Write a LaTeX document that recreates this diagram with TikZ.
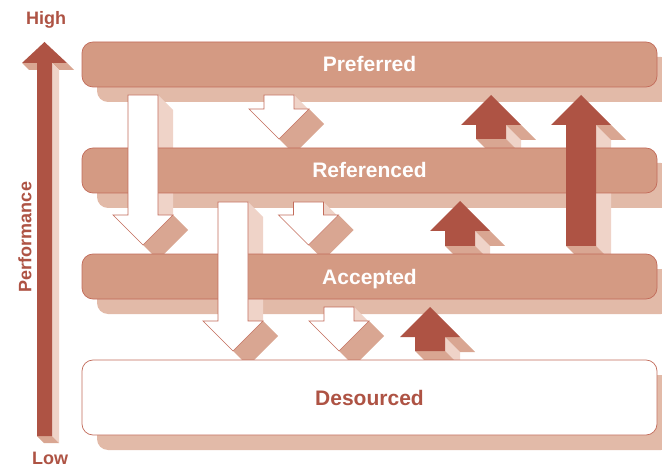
\documentclass[tikz,border=0pt]{standalone}
\usepackage{fontspec}
\setmainfont{Liberation Sans}
\usepackage{tikz}

\definecolor{barfill}{HTML}{D49A83}
\definecolor{barshade}{HTML}{E2BAA8}
\definecolor{darkred}{HTML}{AE5344}
\definecolor{lightface}{HTML}{EFD3C8}
\definecolor{midface}{HTML}{D9A692}
\definecolor{rimred}{HTML}{C26B5A}

\begin{document}
\begin{tikzpicture}[x=1pt,y=-1pt,
  bar/.style={rectangle, rounded corners=11pt, draw=rimred, line width=0.7pt, fill=barfill,
    minimum width=575pt, minimum height=45pt, text height=15pt, text depth=0pt,
    text=white, font=\fontsize{21}{25}\selectfont\bfseries},
  axislabel/.style={text=darkred, font=\fontsize{18}{22}\selectfont\bfseries},
  downarr/.style={fill=white, draw=rimred, line width=0.7pt}]

\clip (0,0) rectangle (662,468);

% shadows of the bars
\foreach \y/\h in {42/45, 148/45, 254/45, 360/75}
  \fill[barshade, rounded corners=11pt] (97,\y+15) rectangle (672,\y+\h+15);

% sides of the white arrows (x centre / top / tip)
\foreach \x/\t/\b in {143/95/245, 279/95/139, 233/202/351, 308.5/202/245, 339/307/351}{
  \fill[lightface] (\x+15,\t) -- (\x+15,\b-30) -- (\x+30,\b-15) -- (\x+30,\t+15) -- cycle;
  \fill[midface] (\x+30,\b-30) -- (\x,\b) -- (\x+15,\b+15) -- (\x+45,\b-15) -- cycle;
}
% sides of the red arrows (x centre / tip / bottom)
\foreach \x/\t/\b in {491/95/139, 581/95/246, 460/201/246, 430/307/351}{
  \fill[lightface] (\x+15,\t+30) -- (\x+15,\b) -- (\x+30,\b+15) -- (\x+30,\t+45) -- cycle;
  \fill[midface] (\x+15,\t+30) -- (\x+30,\t+30) -- (\x+45,\t+45) -- (\x+30,\t+45) -- cycle;
  \fill[midface] (\x-15,\b) -- (\x+15,\b) -- (\x+30,\b+15) -- (\x,\b+15) -- cycle;
}

% the four levels
\node[bar] (pref) at (369.5,64.5) {Preferred};
\node[bar] (ref) at (369.5,170.5) {Referenced};
\node[bar] (acc) at (369.5,276.5) {Accepted};
\node[bar, fill=white, text=darkred, minimum height=75pt] (des) at (369.5,397.5) {Desourced};

% white arrows going down
\foreach \x/\t/\b in {143/95/245, 279/95/139, 233/202/351, 308.5/202/245, 339/307/351}
  \filldraw[downarr] (\x-15,\t) -- (\x+15,\t) -- (\x+15,\b-30) -- (\x+30,\b-30) -- (\x,\b)
    -- (\x-30,\b-30) -- (\x-15,\b-30) -- cycle;

% red arrows going up
\foreach \x/\t/\b in {491/95/139, 581/95/246, 460/201/246, 430/307/351}
  \fill[darkred] (\x,\t) -- (\x+30,\t+30) -- (\x+15,\t+30) -- (\x+15,\b) -- (\x-15,\b)
    -- (\x-15,\t+30) -- (\x-30,\t+30) -- cycle;

% performance axis
\fill[midface] (22,63) -- (37,63) -- (44,70) -- (29,70) -- cycle;
\fill[midface] (52,63) -- (67,63) -- (74,70) -- (59,70) -- cycle;
\fill[lightface] (52,63) -- (52,436) -- (59,443) -- (59,70) -- cycle;
\fill[midface] (37,436) -- (52,436) -- (59,443) -- (44,443) -- cycle;
\fill[darkred] (44.5,42) -- (67,63) -- (52,63) -- (52,436) -- (37,436) -- (37,63) -- (22,63) -- cycle;

\node[axislabel] (high) at (46,20) {High};
\node[axislabel] (low) at (50,458) {Low};
\node[axislabel, rotate=90] (perf) at (25,237) {Performance};
\end{tikzpicture}
\end{document}
